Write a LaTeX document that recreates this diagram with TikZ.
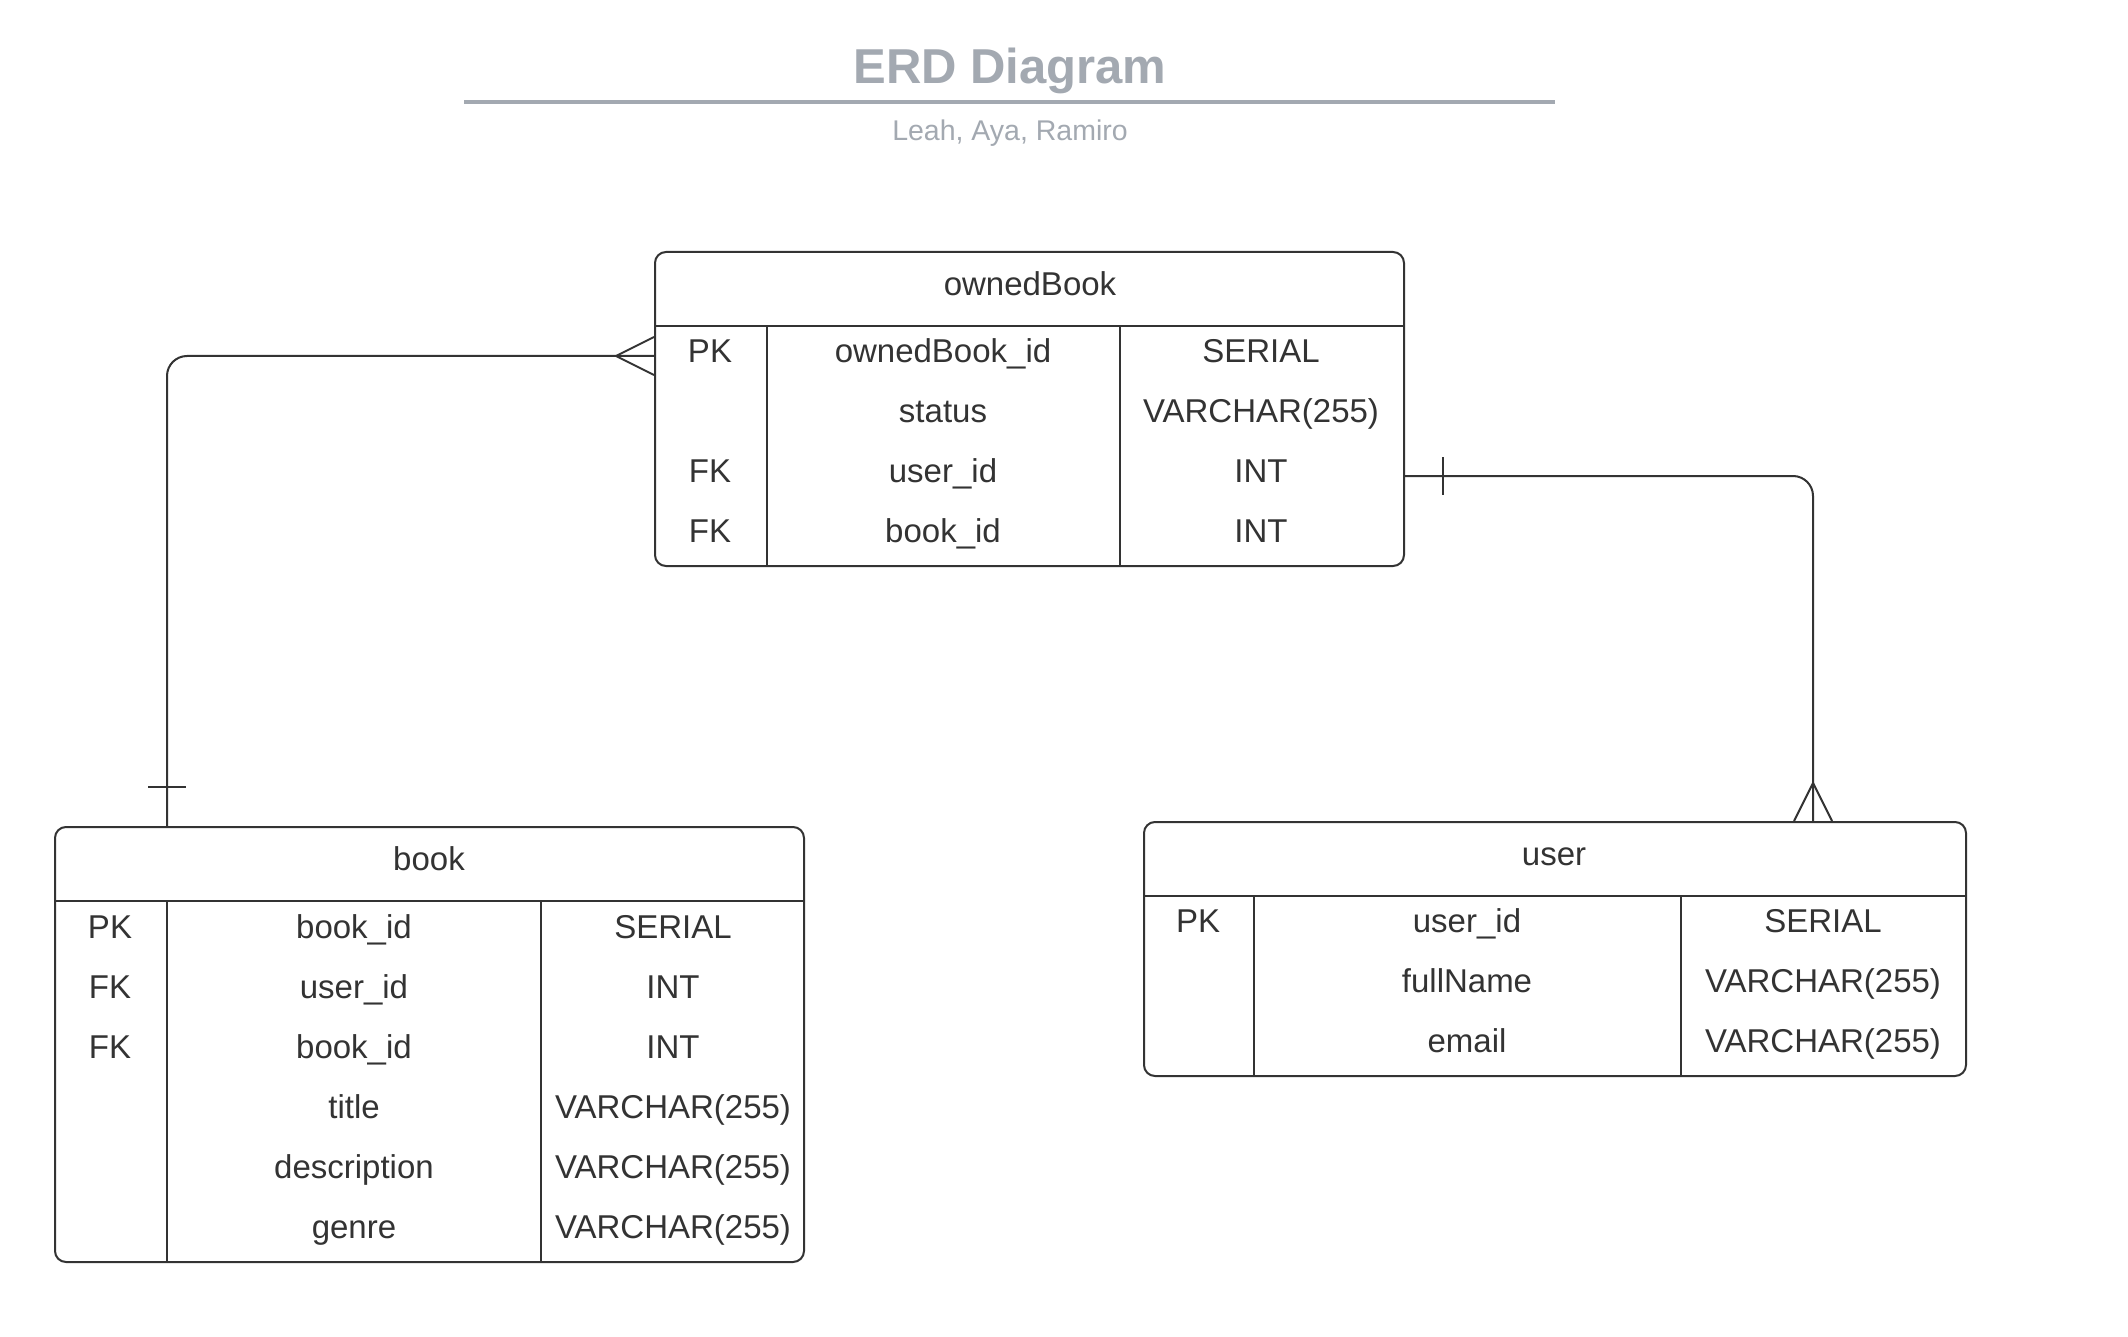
\documentclass[tikz,border=0pt]{standalone}
\usepackage{fontspec}
\setmainfont{Liberation Sans}
\usetikzlibrary{calc}
\definecolor{ink}{HTML}{333333}
\definecolor{titlegrey}{HTML}{A3A9B1}
\begin{document}
\begin{tikzpicture}[x=1pt,y=-1pt,
  tbl/.style={draw=ink, line width=2pt, rounded corners=11pt, anchor=north west, inner sep=0pt},
  cell/.style={font=\fontsize{33}{40}\selectfont, text=ink, inner sep=0pt, text height=23.6pt, text depth=0pt},
  hline/.style={draw=ink, line width=2pt},
  vline/.style={draw=ink, line width=1.4pt},
  conn/.style={draw=ink, line width=2pt},
  endmark/.style={draw=ink, line width=2pt}]
\useasboundingbox (0,0) rectangle (2128,1337);
\fill[white] (0,0) rectangle (2128,1337);

% title
\node[font=\bfseries\fontsize{49}{58}\selectfont, text=titlegrey, inner sep=0pt, text height=35pt, text depth=0pt] (title) at (1010,66) {ERD Diagram};
\draw[titlegrey, line width=3.5pt] (464,102) -- (1555,102);
\node[font=\fontsize{28.5}{34}\selectfont, text=titlegrey, inner sep=0pt, text height=20.4pt, text depth=0pt] (subtitle) at (1010,130) {Leah, Aya, Ramiro};

% ownedBook
\node[tbl, minimum width=749pt, minimum height=314pt] (owned) at (654,251) {};
\draw[hline] (654,326) -- (1403,326);
\draw[vline] (767,326) -- (767,565);
\draw[vline] (1120,326) -- (1120,565);
\node[cell] (oh) at (1030,284) {ownedBook};
\node[cell] (o1a) at (710,351) {PK};
\node[cell] (o1b) at (943,351) {ownedBook\_id};
\node[cell] (o1c) at (1261,351) {SERIAL};
\node[cell] (o2b) at (943,411) {status};
\node[cell] (o2c) at (1261,411) {VARCHAR(255)};
\node[cell] (o3a) at (710,471) {FK};
\node[cell] (o3b) at (943,471) {user\_id};
\node[cell] (o3c) at (1261,471) {INT};
\node[cell] (o4a) at (710,531) {FK};
\node[cell] (o4b) at (943,531) {book\_id};
\node[cell] (o4c) at (1261,531) {INT};

% book
\node[tbl, minimum width=749pt, minimum height=435pt] (book) at (54,826) {};
\draw[hline] (54,901) -- (803,901);
\draw[vline] (167,901) -- (167,1261);
\draw[vline] (541,901) -- (541,1261);
\node[cell] (bh) at (429,859) {book};
\node[cell] (b1a) at (110,927) {PK};
\node[cell] (b1b) at (354,927) {book\_id};
\node[cell] (b1c) at (673,927) {SERIAL};
\node[cell] (b2a) at (110,987) {FK};
\node[cell] (b2b) at (354,987) {user\_id};
\node[cell] (b2c) at (673,987) {INT};
\node[cell] (b3a) at (110,1047) {FK};
\node[cell] (b3b) at (354,1047) {book\_id};
\node[cell] (b3c) at (673,1047) {INT};
\node[cell] (b4b) at (354,1107) {title};
\node[cell] (b4c) at (673,1107) {VARCHAR(255)};
\node[cell] (b5b) at (354,1167) {description};
\node[cell] (b5c) at (673,1167) {VARCHAR(255)};
\node[cell] (b6b) at (354,1227) {genre};
\node[cell] (b6c) at (673,1227) {VARCHAR(255)};

% user
\node[tbl, minimum width=822pt, minimum height=254pt] (user) at (1143,821) {};
\draw[hline] (1143,896) -- (1965,896);
\draw[vline] (1254,896) -- (1254,1075);
\draw[vline] (1681,896) -- (1681,1075);
\node[cell] (uh) at (1554,854) {user};
\node[cell] (u1a) at (1198,921) {PK};
\node[cell] (u1b) at (1467,921) {user\_id};
\node[cell] (u1c) at (1823,921) {SERIAL};
\node[cell] (u2b) at (1467,981) {fullName};
\node[cell] (u2c) at (1823,981) {VARCHAR(255)};
\node[cell] (u3b) at (1467,1041) {email};
\node[cell] (u3c) at (1823,1041) {VARCHAR(255)};

% connector ownedBook -- book
\coordinate (oL) at ($(owned.north west)+(0,105)$);
\coordinate (bT) at ($(book.north west)+(113,0)$);
\draw[conn, rounded corners=20pt] (oL) -| (bT);
\draw[endmark] ($(oL)+(0,-19)$) -- ($(oL)+(-38,0)$) -- ($(oL)+(0,19)$);
\draw[endmark] ($(bT)+(-19,-39)$) -- ($(bT)+(19,-39)$);

% connector ownedBook -- user
\coordinate (oR) at ($(owned.north east)+(0,225)$);
\coordinate (uT) at ($(user.north west)+(670,0)$);
\draw[conn, rounded corners=20pt] (oR) -| (uT);
\draw[endmark] ($(oR)+(38,-19)$) -- ($(oR)+(38,19)$);
\draw[endmark] ($(uT)+(-19,0)$) -- ($(uT)+(0,-38)$) -- ($(uT)+(19,0)$);
\end{tikzpicture}
\end{document}
